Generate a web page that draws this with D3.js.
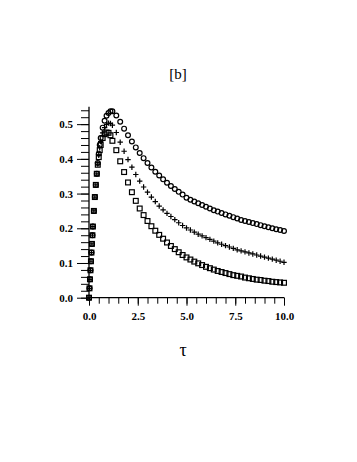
<!DOCTYPE html>
<html><head><meta charset="utf-8">
<script src="https://cdn.jsdelivr.net/npm/d3@7"></script>
<style>html,body{margin:0;padding:0;background:#fff;}</style>
</head><body>
<script>
const tau = [0,0.025,0.05,0.075,0.1,0.125,0.15,0.175,0.2,0.25,0.3,0.35,0.4,0.45,0.5,0.55,0.6,0.7,0.8,0.9,1.0,1.1,
  1.2,1.4,1.6,1.8,2.0,2.2,2.4,2.6,2.8,3.0,3.2,3.4,3.6,3.8,4.0,4.2,4.4,4.6,4.8,5.0,5.2,5.4,5.6,5.8,6.0,
  6.2,6.4,6.6,6.8,7.0,7.2,7.4,7.6,7.8,8.0,8.2,8.4,8.6,8.8,9.0,9.2,9.4,9.6,9.8,10.0];
const circles = [0,0.027,0.053,0.079,0.105,0.13,0.155,0.18,0.205,0.25,0.29,0.325,0.357,0.388,0.415,0.44,0.46,0.49,0.51,0.524,0.532,0.537,
  0.537,0.525,0.507,0.487,0.468,0.450,0.433,0.417,0.402,0.388,0.375,0.363,0.352,0.341,0.331,0.322,0.313,0.305,0.297,0.288,0.282,0.277,0.272,0.267,0.262,
  0.257,0.252,0.248,0.244,0.240,0.236,0.232,0.228,0.224,0.221,0.218,0.215,0.212,0.209,0.206,0.203,0.200,0.197,0.195,0.192];
const plus = [0,0.027,0.053,0.079,0.105,0.13,0.155,0.18,0.205,0.25,0.29,0.325,0.357,0.385,0.41,0.432,0.45,0.475,0.49,0.499,0.503,0.502,
  0.497,0.476,0.448,0.422,0.398,0.376,0.355,0.336,0.319,0.304,0.290,0.277,0.264,0.253,0.243,0.234,0.225,0.216,0.208,0.201,0.195,0.189,0.183,0.178,0.173,
  0.168,0.163,0.158,0.154,0.150,0.146,0.142,0.138,0.135,0.132,0.129,0.126,0.123,0.120,0.117,0.114,0.111,0.108,0.105,0.102];
const squares = [0,0.027,0.053,0.079,0.105,0.13,0.155,0.18,0.205,0.25,0.29,0.325,0.357,0.383,0.405,0.425,0.44,0.46,0.471,0.476,0.475,0.468,
  0.452,0.425,0.393,0.362,0.332,0.304,0.279,0.257,0.238,0.221,0.206,0.193,0.181,0.170,0.159,0.149,0.140,0.131,0.123,0.116,0.110,0.104,0.099,0.094,0.089,
  0.085,0.081,0.077,0.074,0.071,0.068,0.065,0.063,0.061,0.058,0.056,0.054,0.052,0.051,0.049,0.048,0.046,0.045,0.044,0.043];
const xTicks = [0, 2.5, 5, 7.5, 10];
const yTicks = [0, 0.1, 0.2, 0.3, 0.4, 0.5];
const titleText = "[b]";
const xLabel = "τ";

const W = 357, H = 462;
const svg = d3.select("body").append("svg").attr("width", W).attr("height", H)
  .style("background", "#fff");

const x = d3.scaleLinear().domain([0, 10]).range([89, 284]);
const y = d3.scaleLinear().domain([0, 0.55]).range([297.7, 106.8]);

const ink = "#000";
const font = "Liberation Serif, Times New Roman, serif";

const xMinor = d3.range(0, 10.001, 0.5);
const yMinor = d3.range(0, 0.5501, 0.02);

const gx = svg.append("g").attr("transform", `translate(0,${y(0)})`);
gx.call(d3.axisBottom(x).tickValues(xMinor).tickSize(6).tickFormat(""));
gx.selectAll(".tick line").attr("stroke", ink);
gx.select(".domain").remove();
const gx2 = svg.append("g").attr("transform", `translate(0,${y(0)})`);
gx2.call(d3.axisBottom(x).tickValues(xTicks).tickSize(8).tickPadding(7).tickFormat(d3.format(".1f")));
gx2.selectAll(".tick line").attr("stroke", ink);
gx2.selectAll(".tick text").attr("font-family", font).attr("font-weight", "bold").attr("font-size", "11px").attr("fill", ink);
gx2.select(".domain").remove();

const gy = svg.append("g").attr("transform", `translate(${x(0)},0)`);
gy.call(d3.axisLeft(y).tickValues(yMinor).tickSize(8).tickFormat(""));
gy.selectAll(".tick line").attr("stroke", ink);
gy.select(".domain").remove();
const gy2 = svg.append("g").attr("transform", `translate(${x(0)},0)`);
gy2.call(d3.axisLeft(y).tickValues(yTicks).tickSize(12).tickPadding(4).tickFormat(d3.format(".1f")));
gy2.selectAll(".tick line").attr("stroke", ink);
gy2.selectAll(".tick text").attr("font-family", font).attr("font-weight", "bold").attr("font-size", "11px").attr("fill", ink);
gy2.select(".domain").remove();

svg.append("line").attr("x1", x(0)).attr("x2", x(10)).attr("y1", y(0)).attr("y2", y(0))
  .attr("stroke", ink).attr("stroke-width", 1.3);
svg.append("line").attr("x1", x(0)).attr("x2", x(0)).attr("y1", y(0)).attr("y2", y(0.55))
  .attr("stroke", ink).attr("stroke-width", 1.3);

const data = (vals) => tau.map((t, i) => ({t, v: vals[i]}));
const mk = svg.append("g").attr("fill", "none").attr("stroke", ink).attr("stroke-width", 1.2);
mk.selectAll("circle.c").data(data(circles)).join("circle").attr("class", "c")
  .attr("cx", d => x(d.t)).attr("cy", d => y(d.v)).attr("r", 2.4);
mk.selectAll("rect.s").data(data(squares)).join("rect").attr("class", "s")
  .attr("x", d => x(d.t) - 2.4).attr("y", d => y(d.v) - 2.4).attr("width", 4.8).attr("height", 4.8);
mk.selectAll("path.p").data(data(plus)).join("path").attr("class", "p")
  .attr("d", d => `M${x(d.t)-2.7},${y(d.v)}H${x(d.t)+2.7}M${x(d.t)},${y(d.v)-2.7}V${y(d.v)+2.7}`);

svg.append("text").attr("x", 178).attr("y", 79).attr("text-anchor", "middle")
  .attr("font-family", font).attr("font-size", "15px").attr("fill", ink).text(titleText);
svg.append("text").attr("x", 183).attr("y", 356).attr("text-anchor", "middle")
  .attr("font-family", font).attr("font-size", "18px").attr("fill", ink).text(xLabel);
</script>
</body></html>
